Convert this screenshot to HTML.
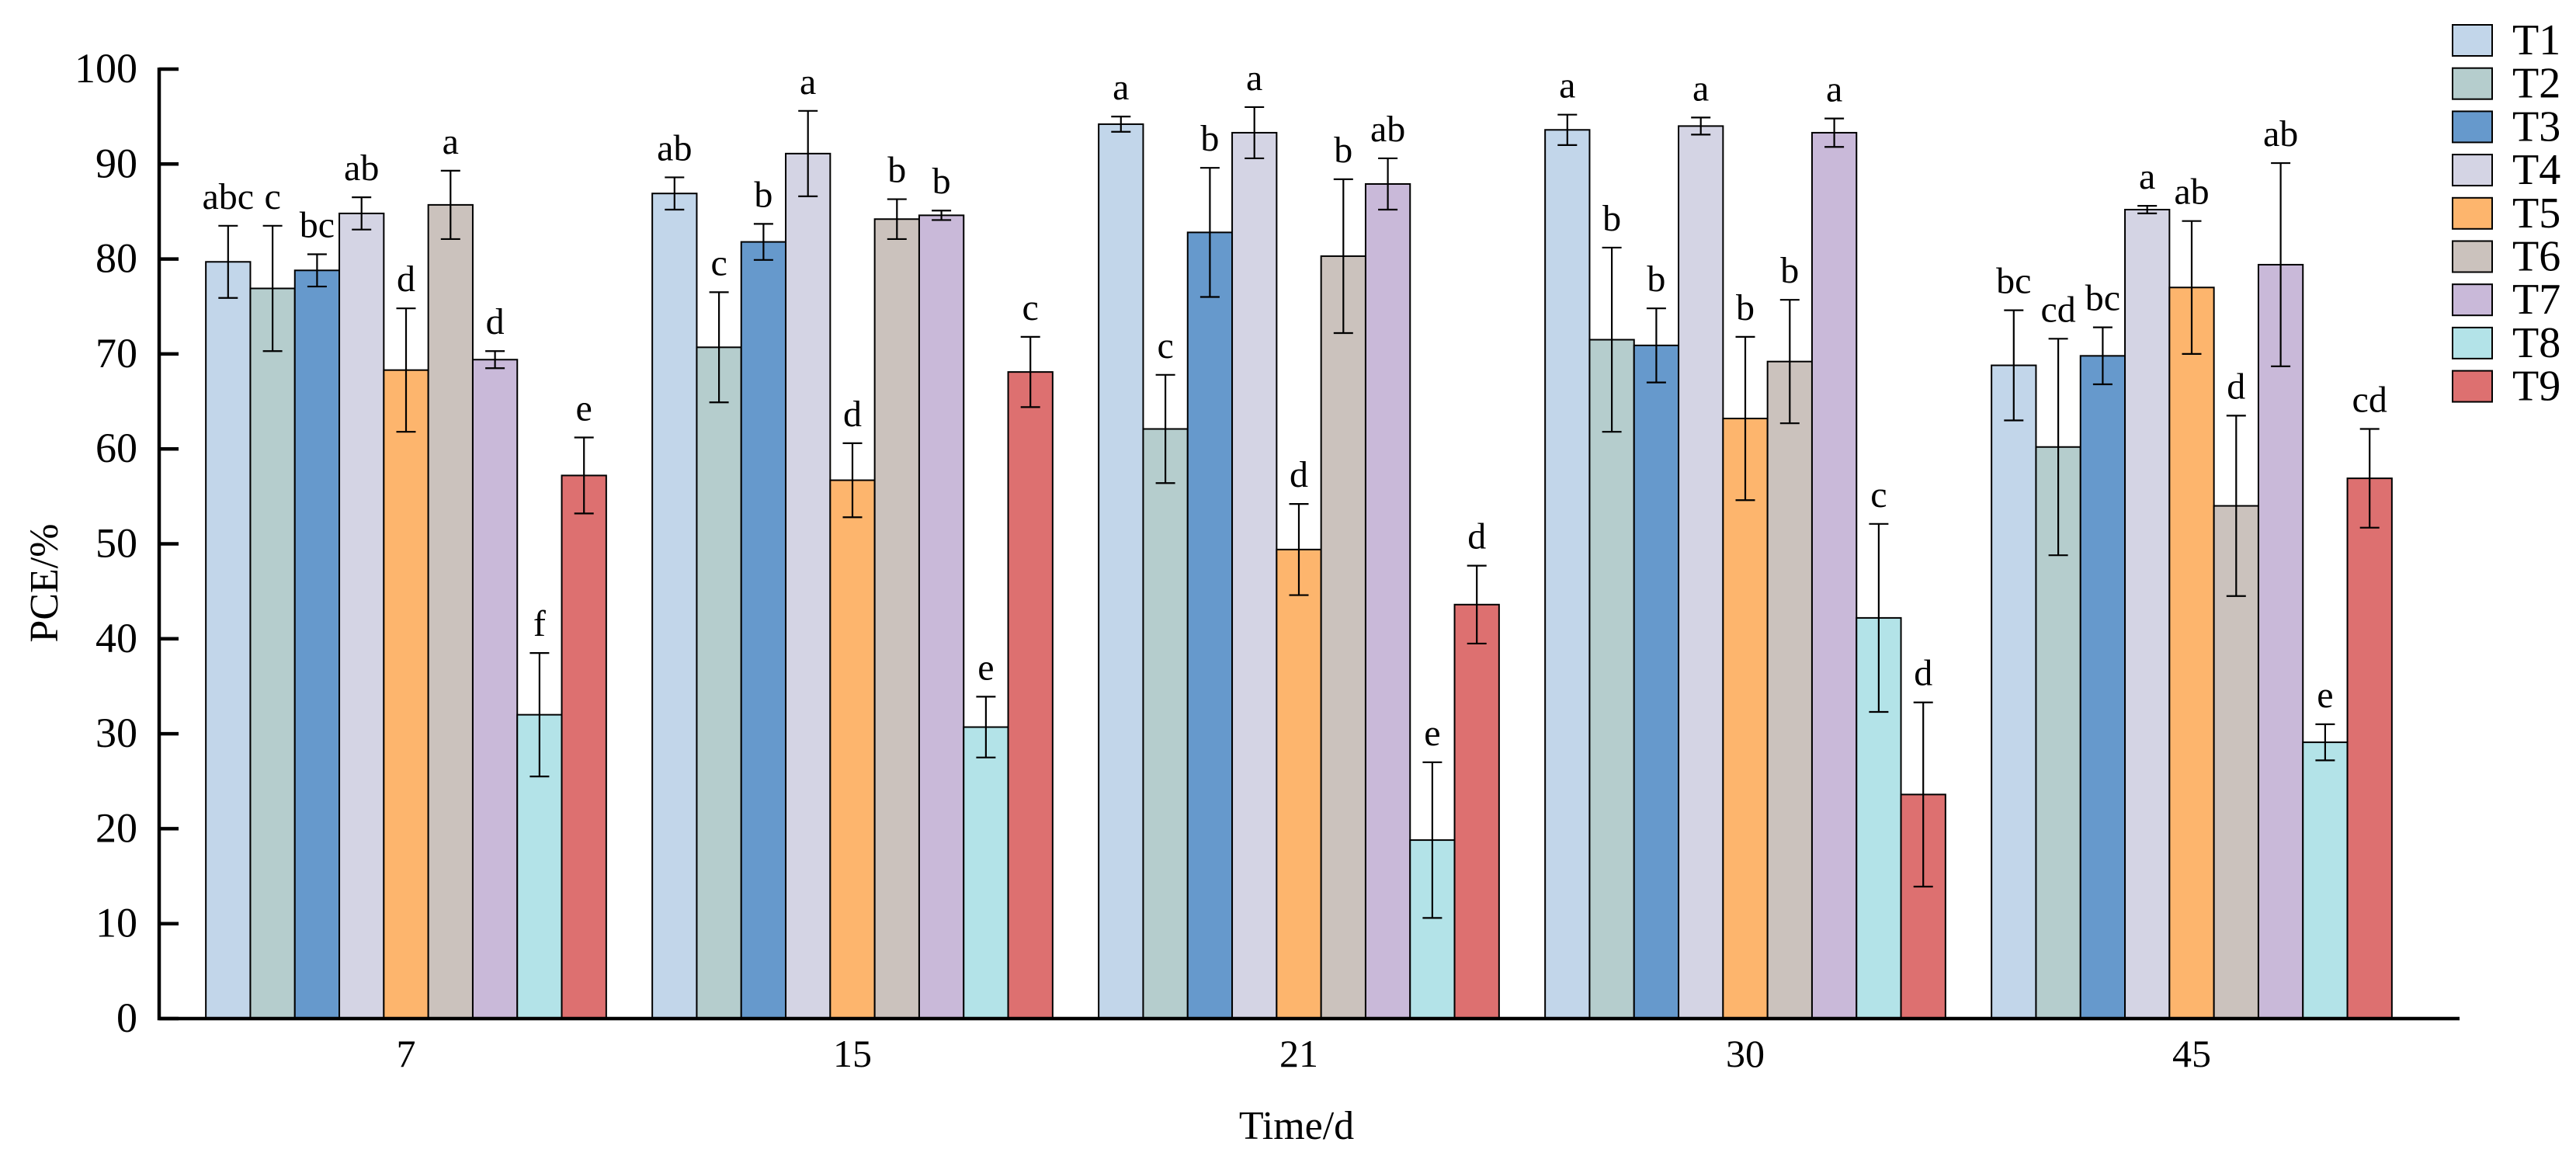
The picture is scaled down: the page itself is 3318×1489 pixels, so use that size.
<!DOCTYPE html>
<html><head><meta charset="utf-8"><style>
html,body{margin:0;padding:0;background:#fff;}
svg{display:block;font-family:"Liberation Serif",serif;}
</style></head><body>
<svg id="chart" width="3318" height="1489" viewBox="0 0 3318 1489" xmlns="http://www.w3.org/2000/svg"></svg>
<script>
const categories = ["7","15","21","30","45"];
const seriesNames = ["T1","T2","T3","T4","T5","T6","T7","T8","T9"];
const seriesColors = ["#c2d6ea","#b5cdcd","#6699cc","#d4d4e4","#fdb56d","#cbc2bd","#c9b9d9","#b3e3e8","#dd7070"];
const values = [
 [79.7,76.9,78.8,84.8,68.3,85.7,69.4,32.0,57.2],
 [86.9,70.7,81.8,91.1,56.7,84.2,84.6,30.7,68.1],
 [94.2,62.1,82.8,93.3,49.4,80.3,87.9,18.8,43.6],
 [93.6,71.5,70.9,94.0,63.2,69.2,93.3,42.2,23.6],
 [68.8,60.2,69.8,85.2,77.0,54.0,79.4,29.1,56.9]
];
const errors = [
 [3.8,6.6,1.7,1.7,6.5,3.6,0.9,6.5,4.0],
 [1.7,5.8,1.9,4.5,3.9,2.1,0.5,3.2,3.7],
 [0.8,5.7,6.8,2.7,4.8,8.1,2.7,8.2,4.1],
 [1.6,9.7,3.9,0.9,8.6,6.5,1.5,9.9,9.7],
 [5.8,11.4,3.0,0.4,7.0,9.5,10.7,1.9,5.2]
];
const letters = [
 ["abc","c","bc","ab","d","a","d","f","e"],
 ["ab","c","b","a","d","b","b","e","c"],
 ["a","c","b","a","d","b","ab","e","d"],
 ["a","b","b","a","b","b","a","c","d"],
 ["bc","cd","bc","a","ab","d","ab","e","cd"]
];
const yTicks = [0,10,20,30,40,50,60,70,80,90,100];

const svg = document.getElementById('chart');
const NS = "http://www.w3.org/2000/svg";
function mk(tag, attrs, parent){const e=document.createElementNS(NS,tag);for(const k in attrs)e.setAttribute(k,attrs[k]);(parent||svg).appendChild(e);return e;}

const x0=205, x1=3168, yTop=89, yBot=1312;
const y = v => yBot - (v/100)*(yBot-yTop);
const groupCenter = i => 523 + i*575;
const barW = 57.3;
const barX = (g,s) => groupCenter(g) - barW*9/2 + s*barW;

for(let g=0; g<categories.length; g++){
  for(let s=0; s<seriesNames.length; s++){
    const v=values[g][s], e=errors[g][s], bx=barX(g,s), cx=bx+barW/2;
    const r=mk('rect',{x:bx,y:y(v),width:barW,height:yBot-y(v),fill:seriesColors[s],stroke:'#000','stroke-width':2});
    
    
    const eg=mk('g',{stroke:'#000','stroke-width':2.2});
    
    
    mk('line',{x1:cx,x2:cx,y1:y(v+e),y2:y(v-e)},eg);
    mk('line',{x1:cx-12.5,x2:cx+12.5,y1:y(v+e),y2:y(v+e)},eg);
    mk('line',{x1:cx-12.5,x2:cx+12.5,y1:y(v-e),y2:y(v-e)},eg);
    const t=mk('text',{x:cx,y:y(v+e)-22,'text-anchor':'middle','font-size':48,fill:'#000'});
    t.textContent=letters[g][s];
    
    
  }
  const xt=mk('text',{x:groupCenter(g),y:1374,'text-anchor':'middle','font-size':50});
  xt.textContent=categories[g];
  
  
}

const ax=mk('g',{stroke:'#000','stroke-width':4.5,fill:'none'});


mk('path',{d:`M${x0},${yTop-2} V${yBot} H${x1}`},ax);
yTicks.forEach(v=>{
  mk('line',{x1:x0,x2:x0+25,y1:y(v),y2:y(v)},ax);
  const t=mk('text',{x:177,y:y(v)+17,'text-anchor':'end','font-size':54});
  t.textContent=v;
  
  
});

const yt=mk('text',{x:0,y:0,'text-anchor':'middle','font-size':52,transform:'translate(74,751) rotate(-90)'});
yt.textContent='PCE/%';


const xtt=mk('text',{x:1670,y:1467,'text-anchor':'middle','font-size':52});
xtt.textContent='Time/d';



const lg=mk('g',{});


seriesNames.forEach((n,i)=>{
  const ly=32+i*55.7;
  const r=mk('rect',{x:3159,y:ly,width:51,height:40,fill:seriesColors[i],stroke:'#000','stroke-width':2},lg);
  
  
  const t=mk('text',{x:3236,y:ly+38,'font-size':56},lg);
  t.textContent=n;
  
  
});
</script>
</body></html>
